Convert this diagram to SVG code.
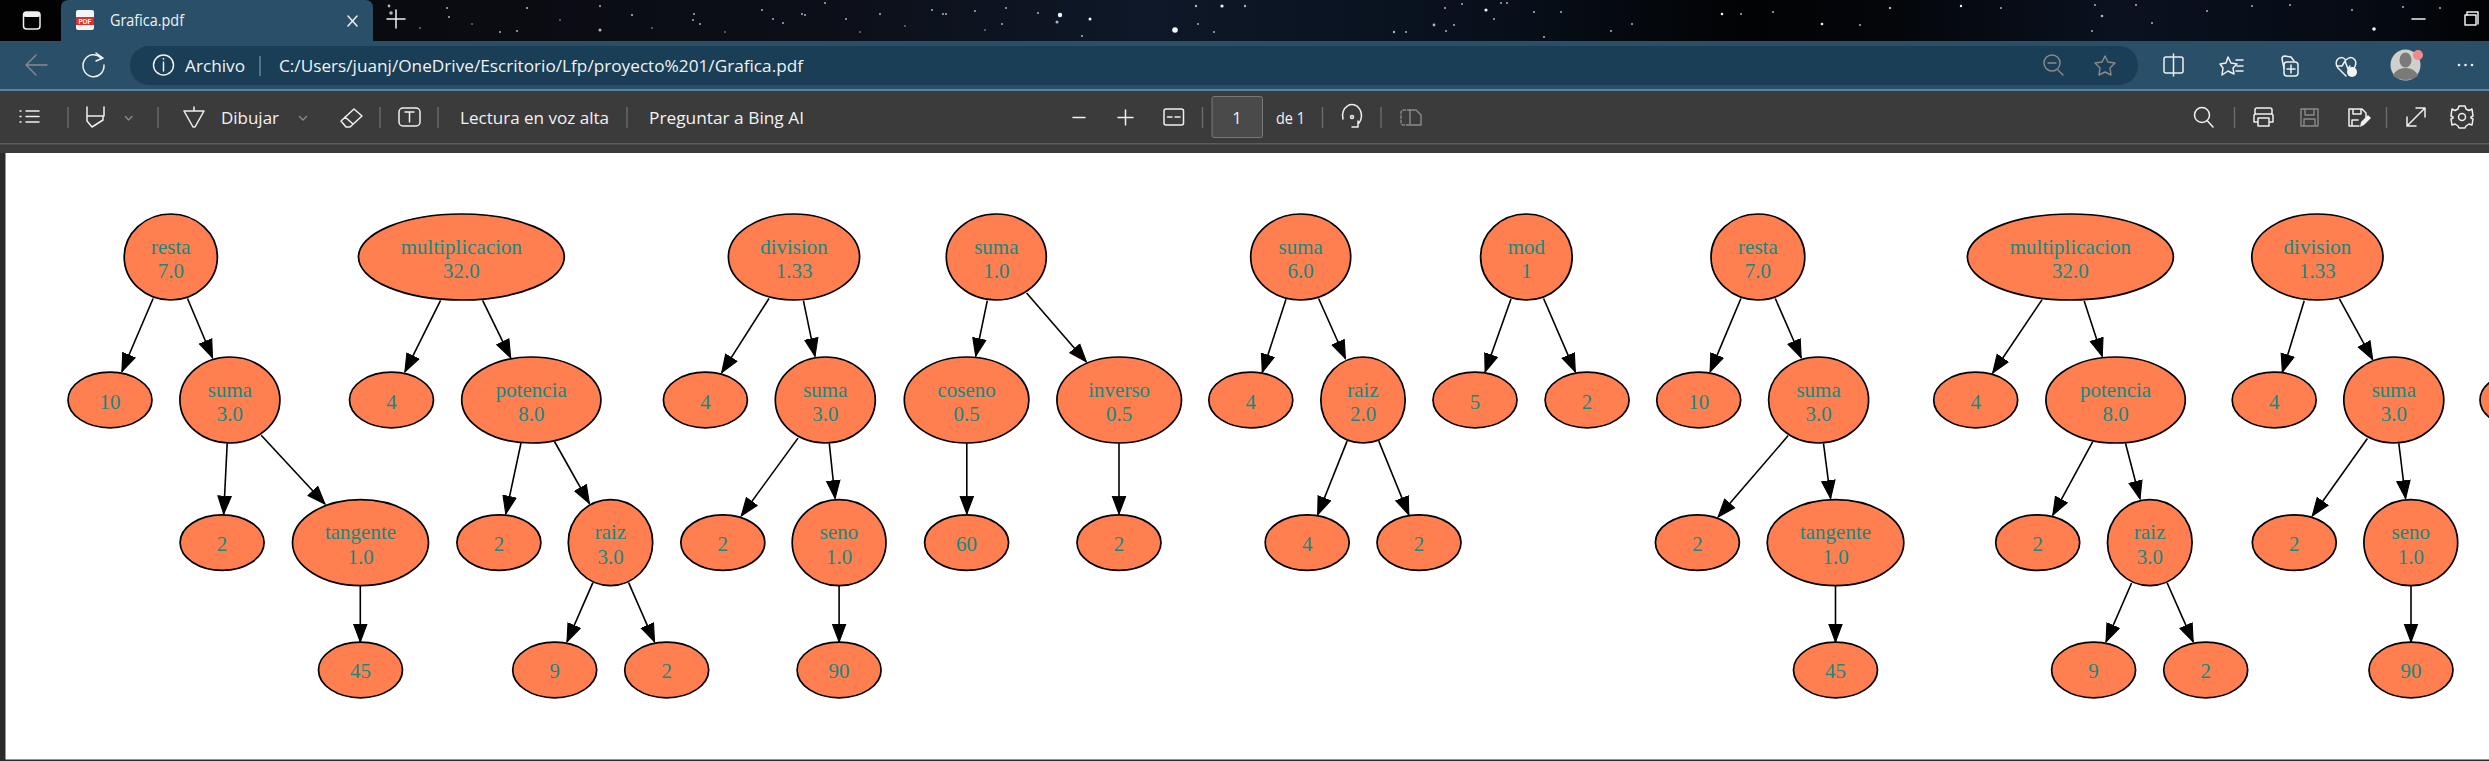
<svg xmlns="http://www.w3.org/2000/svg" width="2489" height="761" viewBox="0 0 2489 761">
<style>
.n{fill:#ff7f50;stroke:#000;stroke-width:1.7}
.t{font-family:"Liberation Serif","Times New Roman",serif;font-size:21px;fill:#148a80;text-anchor:middle}
.e{stroke:#000;stroke-width:1.6;fill:none;marker-end:url(#arrow)}
.u{font-family:"Open Sans","Liberation Sans",sans-serif;font-size:16.500px;fill:#eef3f6}
.w{font-family:"Open Sans","Liberation Sans",sans-serif;font-size:16.500px;fill:#f2f2f2}
.i{fill:none;stroke:#f0f0f0;stroke-width:1.5;stroke-linecap:round;stroke-linejoin:round}
.d{fill:none;stroke:#8a8a8a;stroke-width:1.4;stroke-linecap:round;stroke-linejoin:round}
.s{stroke:#6f6f6f;stroke-width:1.3}
.st{fill:#aab4c2}
.sb{fill:#f4f6fa}
</style>
<defs>
<marker id="arrow" markerUnits="userSpaceOnUse" markerWidth="20" markerHeight="16" viewBox="0 0 18 14" refX="16.5" refY="7" orient="auto">
<polygon points="0.5,1 16.5,7 0.5,13" fill="#000" stroke="#000" stroke-width="1"/>
</marker>
<linearGradient id="sky" x1="0" y1="0" x2="1" y2="0">
<stop offset="0" stop-color="#06070c"/>
<stop offset="0.2" stop-color="#0b0c12"/>
<stop offset="0.33" stop-color="#0c0f18"/>
<stop offset="0.46" stop-color="#0e1828"/>
<stop offset="0.6" stop-color="#08101c"/>
<stop offset="0.7" stop-color="#020304"/>
<stop offset="0.76" stop-color="#04060a"/>
<stop offset="0.85" stop-color="#0a1220"/>
<stop offset="0.95" stop-color="#060b14"/>
<stop offset="1" stop-color="#010203"/>
</linearGradient>
</defs>

<g id="page">
<rect x="0" y="0" width="2489" height="761" fill="#2b2b2b"/>
<rect x="5.500" y="153" width="2484" height="606.500" fill="#fff"/>
</g>

<g id="browser-tabs">
<rect x="0" y="0" width="2489" height="41" fill="url(#sky)"/>
<rect x="0" y="0" width="61" height="41" fill="#020202"/>
<g id="stars">
<circle class="st" cx="389" cy="6" r="1.4"/><circle class="st" cx="391" cy="13" r="1.8"/><circle class="st" cx="447" cy="8" r="1"/><circle class="st" cx="449" cy="17" r="1"/><circle class="st" cx="527" cy="8" r="1.1"/><circle class="st" cx="517" cy="31" r="1"/><circle class="st" cx="600" cy="30" r="1.6"/><circle class="st" cx="500" cy="32" r="1"/><circle class="st" cx="600" cy="6" r="1"/><circle class="st" cx="632" cy="15" r="1.1"/><circle class="st" cx="694" cy="14" r="1"/><circle class="st" cx="693" cy="20" r="1"/><circle class="st" cx="773" cy="19" r="1"/><circle class="st" cx="805" cy="15" r="1"/><circle class="st" cx="762" cy="10" r="1"/><circle class="st" cx="825" cy="3" r="1"/><circle class="st" cx="783" cy="23" r="1"/><circle class="st" cx="802" cy="14" r="1"/><circle class="st" cx="846" cy="19" r="1"/><circle class="st" cx="880" cy="14" r="1"/><circle class="st" cx="943" cy="14" r="1"/><circle class="st" cx="1002" cy="24" r="1"/><circle class="st" cx="1006" cy="8" r="1"/><circle class="st" cx="1038" cy="13" r="1"/><circle class="st" cx="946" cy="14" r="1"/><circle class="st" cx="975" cy="11" r="1"/><circle class="st" cx="932" cy="10" r="1"/><circle class="st" cx="700" cy="24" r="1"/><circle class="st" cx="420" cy="28" r="0.8"/><circle class="st" cx="472" cy="24" r="0.8"/><circle class="st" cx="560" cy="20" r="0.8"/><circle class="st" cx="652" cy="28" r="0.8"/><circle class="st" cx="725" cy="32" r="0.8"/><circle class="st" cx="860" cy="32" r="0.8"/><circle class="st" cx="905" cy="26" r="0.8"/><circle class="st" cx="985" cy="30" r="0.8"/>
<circle class="sb" cx="1060" cy="15" r="2.2"/><circle class="st" cx="1057" cy="22" r="1.5"/><circle class="sb" cx="1090" cy="19" r="1.5"/><circle class="sb" cx="1175" cy="30" r="2.8"/><circle class="sb" cx="1222" cy="6" r="1.6"/><circle class="st" cx="1196" cy="6" r="1.2"/><circle class="st" cx="1245" cy="6" r="1.2"/><circle class="st" cx="1198" cy="24" r="1"/><circle class="st" cx="1082" cy="36" r="1"/><circle class="st" cx="1214" cy="32" r="1"/><circle class="st" cx="1394" cy="32" r="1.2"/><circle class="st" cx="1434" cy="25" r="1.4"/><circle class="st" cx="1406" cy="32" r="1"/><circle class="st" cx="1462" cy="4" r="1"/><circle class="st" cx="1507" cy="3" r="1"/><circle class="st" cx="1494" cy="19" r="1"/><circle class="st" cx="1446" cy="31" r="1"/>
<circle class="sb" cx="1486" cy="10" r="1.6"/><circle class="st" cx="1534" cy="12" r="1.1"/><circle class="st" cx="1445" cy="8" r="1"/><circle class="st" cx="1454" cy="25" r="1"/><circle class="st" cx="1501" cy="3" r="1"/><circle class="st" cx="1544" cy="37" r="1"/><circle class="st" cx="1611" cy="31" r="1"/><circle class="st" cx="1561" cy="12" r="1"/><circle class="st" cx="1632" cy="24" r="1"/><circle class="sb" cx="1722" cy="14" r="1.3"/><circle class="st" cx="1741" cy="14" r="1"/><circle class="st" cx="1773" cy="12" r="1"/><circle class="sb" cx="1822" cy="24" r="1.3"/><circle class="st" cx="1860" cy="25" r="1"/><circle class="sb" cx="1890" cy="8" r="1"/><circle class="sb" cx="1961" cy="6" r="1.2"/><circle class="st" cx="2001" cy="8" r="1"/><circle class="st" cx="2092" cy="31" r="1"/><circle class="st" cx="2095" cy="5" r="1"/><circle class="st" cx="2102" cy="16" r="1.3"/><circle class="st" cx="2152" cy="23" r="1"/><circle class="st" cx="2136" cy="5" r="1"/><circle class="st" cx="2207" cy="11" r="1"/><circle class="st" cx="2252" cy="6" r="1"/><circle class="st" cx="2290" cy="5" r="1"/><circle class="st" cx="2352" cy="10" r="1"/><circle class="sb" cx="2374" cy="29" r="1.8"/><circle class="st" cx="2403" cy="7" r="1"/><circle class="st" cx="2440" cy="8" r="1"/>
</g>
<path d="M61 41V8Q61 0 69 0H365Q373 0 373 8V41Z" fill="#2a4f69"/>
<rect class="i" x="23.500" y="12" width="16.500" height="17" rx="3" stroke-width="2"/>
<rect x="23.500" y="12" width="16.500" height="5" rx="2" fill="#f0f0f0"/>
<rect x="76" y="10" width="18" height="20" rx="2" fill="#f5f5f5"/>
<rect x="76" y="17" width="18" height="8" fill="#d9302c"/>
<text x="85" y="23.500" font-family="Liberation Sans, sans-serif" font-size="6.500" font-weight="bold" fill="#fff" text-anchor="middle">PDF</text>
<text class="u" x="110" y="26" textLength="74" lengthAdjust="spacingAndGlyphs">Grafica.pdf</text>
<path class="i" d="M348 16L357 26M357 16L348 26"/>
<path class="i" d="M387 19H405M396 10V28" stroke="#cfcfcf"/>
<path class="i" d="M2412 19H2425"/>
<rect class="i" x="2465" y="15" width="11" height="10"/>
<path class="i" d="M2467 15V12H2478V24"/>
</g>

<g id="browser-address">
<rect x="0" y="41" width="2489" height="49" fill="#2a4f69"/>
<rect x="0" y="89" width="2489" height="2" fill="#54839e"/>
<rect x="130" y="46" width="2008" height="39" rx="19" fill="#193e55"/>
<path class="d" d="M26 65H47M26 65L36 55M26 65L36 75" stroke="#7f99aa"/>
<path class="i" d="M101 58A10.500 11 0 1 0 104 65M96 53L103 58L96 61" stroke="#dfe7ec"/>
<circle class="i" cx="163.500" cy="65" r="10"/>
<path class="i" d="M163.500 62V71M163.500 58.500V59"/>
<text class="u" x="185" y="72" textLength="60" lengthAdjust="spacingAndGlyphs">Archivo</text>
<path d="M260 56V76" stroke="#7d97a7" stroke-width="1.2"/>
<text class="u" x="279" y="72" textLength="524" lengthAdjust="spacingAndGlyphs">C:/Users/juanj/OneDrive/Escritorio/Lfp/proyecto%201/Grafica.pdf</text>
<circle class="d" cx="2052" cy="63" r="8"/><path class="d" d="M2058 70L2063 75M2048 63H2056"/>
<path class="d" d="M2105 56L2108 62L2115 63L2110 68L2111 75L2105 72L2099 75L2100 68L2095 63L2102 62Z"/>
<rect class="i" x="2164" y="57" width="19" height="16" rx="2"/><path class="i" d="M2173.500 54V76"/>
<path class="i" d="M2228 57L2231 63L2237 64L2233 68L2234 74L2228 71L2222 75L2223 68L2220 64L2226 63Z"/>
<path class="i" d="M2236 60H2243M2237 66H2243M2236 71H2243"/>
<rect class="i" x="2284" y="62" width="14" height="14" rx="3"/><path class="i" d="M2291 65V73M2287 69H2295M2284 68L2282 59Q2282 56 2285 56L2291 57L2294 61"/>
<path class="i" d="M2346 76L2338 68Q2335 64 2337 60Q2341 55 2346 60Q2351 55 2355 60Q2357 64 2354 68M2337 66H2342L2345 61L2348 69L2350 66"/>
<circle cx="2352" cy="72" r="5" fill="#f4f4f4"/>
<ellipse cx="2405.500" cy="65" rx="15" ry="15.500" fill="#cfcfcb"/>
<ellipse cx="2405.500" cy="60" rx="6" ry="7.500" fill="#7a7a78"/>
<path d="M2393 76Q2396 68 2405.500 68Q2415 68 2418 76Q2405.500 84 2393 76Z" fill="#7a7a78"/>
<circle cx="2418" cy="55" r="5" fill="#f28a8a"/>
<circle cx="2459" cy="65" r="1.300" fill="#f0f0f0"/><circle cx="2465.500" cy="65" r="1.300" fill="#f0f0f0"/><circle cx="2472" cy="65" r="1.300" fill="#f0f0f0"/>
</g>

<g id="browser-toolbar">
<rect x="0" y="91" width="2489" height="62" fill="#3b3b3b"/>
<rect x="0" y="143" width="2489" height="1.500" fill="#5b5b5b"/>
<path class="i" d="M20 111H21M26 111H39M20 116.500H21M26 116.500H39M20 122H21M26 122H39"/>
<path class="s" d="M68 107V128M158 107V128M380 107V128M438 107V128M627 107V128M1202.500 107V128M1322.500 107V128M1381 107V128M2234.500 107V128M2386.500 107V128"/>
<path class="i" d="M87 107V116H104V107M87 116V121L92 127L103 120V116"/>
<path class="d" d="M125.500 116.500L128.500 120L132 116.500" stroke="#cfcfcf"/>
<path class="i" d="M184 111H204L195 127H193ZM194 107V111"/>
<text class="w" x="221" y="124" textLength="58" lengthAdjust="spacingAndGlyphs">Dibujar</text>
<path class="d" d="M299.500 116.500L303 120L306.500 116.500" stroke="#cfcfcf"/>
<path class="i" d="M341 121L354 109L362 116L350 127H346ZM345 117L353 124"/>
<rect class="i" x="399" y="108" width="21" height="18" rx="4"/><path class="i" d="M405 112H414M409.500 112V122"/>
<text class="w" x="460" y="124" textLength="149" lengthAdjust="spacingAndGlyphs">Lectura en voz alta</text>
<text class="w" x="649" y="124" textLength="155" lengthAdjust="spacingAndGlyphs">Preguntar a Bing AI</text>
<path class="i" d="M1073 117.500H1085M1118 117.500H1133M1125.500 110V125"/>
<rect class="i" x="1164" y="109" width="19.500" height="16" rx="2"/>
<path class="i" d="M1167.500 117H1172M1175 117H1180" stroke-width="1.800"/>
<rect x="1212" y="96.500" width="50.500" height="41" rx="2" fill="#4a4a4a" stroke="#787878"/>
<text class="w" x="1237" y="124" text-anchor="middle">1</text>
<text class="w" x="1276" y="124" textLength="29" lengthAdjust="spacingAndGlyphs">de 1</text>
<path class="i" d="M1343 119A9.500 11 0 1 1 1359 123M1352 127H1358L1358 121"/>
<circle class="i" cx="1352" cy="117" r="1.500"/>
<path class="d" d="M1410 110H1404Q1401 110 1401 113V122Q1401 125 1404 125H1410" stroke-dasharray="2.500 2" stroke="#6c6c6c"/>
<path class="d" d="M1410 110H1416L1421 115V125H1410Z" stroke="#777"/>
<circle class="i" cx="2202" cy="115" r="7.500"/><path class="i" d="M2207.500 121L2213 127"/>
<path class="i" d="M2255 114V110Q2255 108 2257 108H2270Q2272 108 2272 110V114M2258 122H2254V116Q2254 114 2256 114H2271Q2273 114 2273 116V122H2269M2258 118H2269V126H2258Z"/>
<path class="d" d="M2301 109H2318V126H2301ZM2305 109V115H2314V109M2304 126V119H2315V126"/>
<path class="i" d="M2359 126H2349V109H2362L2366 113V118M2353 109V114H2361V109M2352 126V120H2358"/>
<path d="M2360 127L2361 122L2368 115L2371 118L2364 125Z" fill="#f0f0f0"/>
<path class="i" d="M2407 126L2425 108M2416 108H2425V117M2407 117V126H2416"/>
<path class="i" d="M2459 106H2465L2466 109L2469 110.500L2472 109L2473 116L2471 117L2471 118L2473 119L2472 125L2469 124L2466 126L2465 128H2459L2458 126L2455 124L2452 125L2451 119L2453 118L2453 117L2451 116L2452 109L2455 110.500L2458 109Z"/>
<circle class="i" cx="2462" cy="117" r="3.500"/>
</g>

<g id="connectors">
<line class="e" x1="153.100" y1="298.500" x2="121.900" y2="371.500"/>
<line class="e" x1="187.500" y1="298.500" x2="212.500" y2="357.800"/>
<line class="e" x1="227.200" y1="443.300" x2="223.700" y2="514"/>
<line class="e" x1="261.200" y1="435.200" x2="325" y2="504"/>
<line class="e" x1="360.300" y1="586" x2="360.300" y2="641.900"/>
<line class="e" x1="440.600" y1="300.400" x2="404.900" y2="371.900"/>
<line class="e" x1="482.600" y1="300.400" x2="510.700" y2="357.800"/>
<line class="e" x1="521" y1="443" x2="505.800" y2="514"/>
<line class="e" x1="554.500" y1="441.500" x2="589.300" y2="503.300"/>
<line class="e" x1="592.900" y1="582.600" x2="567" y2="641.900"/>
<line class="e" x1="628.600" y1="582.600" x2="654.500" y2="641.900"/>
<line class="e" x1="769" y1="298.500" x2="721.700" y2="372.600"/>
<line class="e" x1="803.400" y1="300.700" x2="815" y2="356.300"/>
<line class="e" x1="798" y1="438.100" x2="741.300" y2="515.900"/>
<line class="e" x1="829.300" y1="443.300" x2="835.100" y2="498.500"/>
<line class="e" x1="839.100" y1="586" x2="839.100" y2="641.900"/>
<line class="e" x1="987.300" y1="300.700" x2="975.700" y2="356.300"/>
<line class="e" x1="1026.600" y1="293" x2="1086.400" y2="361.900"/>
<line class="e" x1="966.800" y1="443.300" x2="966.800" y2="514"/>
<line class="e" x1="1119" y1="443.300" x2="1119" y2="514"/>
<line class="e" x1="1286" y1="299.300" x2="1262.300" y2="372.200"/>
<line class="e" x1="1318.600" y1="298.500" x2="1345.400" y2="358.500"/>
<line class="e" x1="1347.100" y1="441.100" x2="1317.700" y2="514.800"/>
<line class="e" x1="1378.800" y1="441.100" x2="1408.800" y2="514.800"/>
<line class="e" x1="1511" y1="298.900" x2="1485.100" y2="371.900"/>
<line class="e" x1="1543.600" y1="298.500" x2="1575.300" y2="371.900"/>
<line class="e" x1="1740.900" y1="298.500" x2="1710.100" y2="371.900"/>
<line class="e" x1="1775.300" y1="298.500" x2="1801.200" y2="357.800"/>
<line class="e" x1="1788.200" y1="435.600" x2="1718.100" y2="517"/>
<line class="e" x1="1823.500" y1="443.300" x2="1830.600" y2="498.500"/>
<line class="e" x1="1835.500" y1="586" x2="1835.500" y2="641.900"/>
<line class="e" x1="2042.100" y1="299.600" x2="1992.700" y2="373"/>
<line class="e" x1="2084.200" y1="301.100" x2="2102.200" y2="356.300"/>
<line class="e" x1="2092.600" y1="441.900" x2="2052.800" y2="515.200"/>
<line class="e" x1="2125.500" y1="443.300" x2="2140" y2="498.900"/>
<line class="e" x1="2131.600" y1="583" x2="2106" y2="641.900"/>
<line class="e" x1="2167.200" y1="583" x2="2193.200" y2="641.900"/>
<line class="e" x1="2304.200" y1="300.700" x2="2282.400" y2="372.200"/>
<line class="e" x1="2339.400" y1="298.900" x2="2372.700" y2="359.600"/>
<line class="e" x1="2367.400" y1="438.500" x2="2312.300" y2="515.900"/>
<line class="e" x1="2398.800" y1="443.300" x2="2405.600" y2="498.500"/>
<line class="e" x1="2411" y1="586" x2="2411" y2="641.900"/>
</g>

<g id="nodes">
<g id="a1"><ellipse class="n" cx="170.800" cy="257" rx="46.600" ry="43"/><text class="t" x="170.800" y="254">resta</text><text class="t" x="170.800" y="278">7.0</text></g>
<g id="a2"><ellipse class="n" cx="110" cy="400" rx="42" ry="27.800"/><text class="t" x="110" y="409">10</text></g>
<g id="a3"><ellipse class="n" cx="229.900" cy="400" rx="50" ry="43"/><text class="t" x="229.900" y="396.500">suma</text><text class="t" x="229.900" y="420.500">3.0</text></g>
<g id="a4"><ellipse class="n" cx="222.100" cy="542.600" rx="42" ry="27.800"/><text class="t" x="222.100" y="551">2</text></g>
<g id="a5"><ellipse class="n" cx="360.500" cy="542.600" rx="68" ry="43"/><text class="t" x="360.500" y="539">tangente</text><text class="t" x="360.500" y="563.500">1.0</text></g>
<g id="a6"><ellipse class="n" cx="360.500" cy="670" rx="42" ry="27.800"/><text class="t" x="360.500" y="678">45</text></g>

<g id="b1"><ellipse class="n" cx="461.400" cy="257" rx="102.900" ry="43"/><text class="t" x="461.400" y="254">multiplicacion</text><text class="t" x="461.400" y="278">32.0</text></g>
<g id="b2"><ellipse class="n" cx="391.500" cy="400" rx="42" ry="27.800"/><text class="t" x="391.500" y="409">4</text></g>
<g id="b3"><ellipse class="n" cx="531.300" cy="400" rx="69.600" ry="43"/><text class="t" x="531.300" y="396.500">potencia</text><text class="t" x="531.300" y="420.500">8.0</text></g>
<g id="b4"><ellipse class="n" cx="498.900" cy="542.600" rx="42" ry="27.800"/><text class="t" x="498.900" y="551">2</text></g>
<g id="b5"><ellipse class="n" cx="610.500" cy="542.600" rx="42.200" ry="43"/><text class="t" x="610.500" y="539">raiz</text><text class="t" x="610.500" y="563.500">3.0</text></g>
<g id="b6"><ellipse class="n" cx="554.700" cy="670" rx="42" ry="27.800"/><text class="t" x="554.700" y="678">9</text></g>
<g id="b7"><ellipse class="n" cx="666.700" cy="670" rx="42" ry="27.800"/><text class="t" x="666.700" y="678">2</text></g>

<g id="c1"><ellipse class="n" cx="794" cy="257" rx="65.600" ry="43"/><text class="t" x="794" y="254">division</text><text class="t" x="794" y="278">1.33</text></g>
<g id="c2"><ellipse class="n" cx="705.400" cy="400" rx="42" ry="27.800"/><text class="t" x="705.400" y="409">4</text></g>
<g id="c3"><ellipse class="n" cx="825.300" cy="400" rx="50" ry="43"/><text class="t" x="825.300" y="396.500">suma</text><text class="t" x="825.300" y="420.500">3.0</text></g>
<g id="c4"><ellipse class="n" cx="722.800" cy="542.600" rx="42" ry="27.800"/><text class="t" x="722.800" y="551">2</text></g>
<g id="c5"><ellipse class="n" cx="839.100" cy="542.600" rx="46.900" ry="43"/><text class="t" x="839.100" y="539">seno</text><text class="t" x="839.100" y="563.500">1.0</text></g>
<g id="c6"><ellipse class="n" cx="839.100" cy="670" rx="42" ry="27.800"/><text class="t" x="839.100" y="678">90</text></g>

<g id="d1"><ellipse class="n" cx="996.300" cy="257" rx="50" ry="43"/><text class="t" x="996.300" y="254">suma</text><text class="t" x="996.300" y="278">1.0</text></g>
<g id="d2"><ellipse class="n" cx="966.600" cy="400" rx="62.300" ry="43"/><text class="t" x="966.600" y="396.500">coseno</text><text class="t" x="966.600" y="420.500">0.5</text></g>
<g id="d3"><ellipse class="n" cx="1119.200" cy="400" rx="62.300" ry="43"/><text class="t" x="1119.200" y="396.500">inverso</text><text class="t" x="1119.200" y="420.500">0.5</text></g>
<g id="d4"><ellipse class="n" cx="966.600" cy="542.600" rx="42" ry="27.800"/><text class="t" x="966.600" y="551">60</text></g>
<g id="d5"><ellipse class="n" cx="1119" cy="542.600" rx="42" ry="27.800"/><text class="t" x="1119" y="551">2</text></g>

<g id="e1"><ellipse class="n" cx="1300.700" cy="257" rx="50" ry="43"/><text class="t" x="1300.700" y="254">suma</text><text class="t" x="1300.700" y="278">6.0</text></g>
<g id="e2"><ellipse class="n" cx="1250.800" cy="400" rx="42" ry="27.800"/><text class="t" x="1250.800" y="409">4</text></g>
<g id="e3"><ellipse class="n" cx="1363" cy="400" rx="42.200" ry="43"/><text class="t" x="1363" y="396.500">raiz</text><text class="t" x="1363" y="420.500">2.0</text></g>
<g id="e4"><ellipse class="n" cx="1307.200" cy="542.600" rx="42" ry="27.800"/><text class="t" x="1307.200" y="551">4</text></g>
<g id="e5"><ellipse class="n" cx="1419" cy="542.600" rx="42" ry="27.800"/><text class="t" x="1419" y="551">2</text></g>

<g id="f1"><ellipse class="n" cx="1526.400" cy="257" rx="45.800" ry="43"/><text class="t" x="1526.400" y="254">mod</text><text class="t" x="1526.400" y="278">1</text></g>
<g id="f2"><ellipse class="n" cx="1475" cy="400" rx="42" ry="27.800"/><text class="t" x="1475" y="409">5</text></g>
<g id="f3"><ellipse class="n" cx="1587.100" cy="400" rx="42" ry="27.800"/><text class="t" x="1587.100" y="409">2</text></g>

<g id="g1"><ellipse class="n" cx="1757.900" cy="257" rx="46.900" ry="43"/><text class="t" x="1757.900" y="254">resta</text><text class="t" x="1757.900" y="278">7.0</text></g>
<g id="g2"><ellipse class="n" cx="1698.700" cy="400" rx="42" ry="27.800"/><text class="t" x="1698.700" y="409">10</text></g>
<g id="g3"><ellipse class="n" cx="1818.600" cy="400" rx="50" ry="43"/><text class="t" x="1818.600" y="396.500">suma</text><text class="t" x="1818.600" y="420.500">3.0</text></g>
<g id="g4"><ellipse class="n" cx="1697.400" cy="542.600" rx="42" ry="27.800"/><text class="t" x="1697.400" y="551">2</text></g>
<g id="g5"><ellipse class="n" cx="1835.500" cy="542.600" rx="68.300" ry="43"/><text class="t" x="1835.500" y="539">tangente</text><text class="t" x="1835.500" y="563.500">1.0</text></g>
<g id="g6"><ellipse class="n" cx="1835.500" cy="670" rx="42" ry="27.800"/><text class="t" x="1835.500" y="678">45</text></g>

<g id="h1"><ellipse class="n" cx="2070.400" cy="257" rx="103" ry="43"/><text class="t" x="2070.400" y="254">multiplicacion</text><text class="t" x="2070.400" y="278">32.0</text></g>
<g id="h2"><ellipse class="n" cx="1975.700" cy="400" rx="42" ry="27.800"/><text class="t" x="1975.700" y="409">4</text></g>
<g id="h3"><ellipse class="n" cx="2115.600" cy="400" rx="69.700" ry="43"/><text class="t" x="2115.600" y="396.500">potencia</text><text class="t" x="2115.600" y="420.500">8.0</text></g>
<g id="h4"><ellipse class="n" cx="2037.700" cy="542.600" rx="42" ry="27.800"/><text class="t" x="2037.700" y="551">2</text></g>
<g id="h5"><ellipse class="n" cx="2149.800" cy="542.600" rx="42.300" ry="43"/><text class="t" x="2149.800" y="539">raiz</text><text class="t" x="2149.800" y="563.500">3.0</text></g>
<g id="h6"><ellipse class="n" cx="2093.600" cy="670" rx="42" ry="27.800"/><text class="t" x="2093.600" y="678">9</text></g>
<g id="h7"><ellipse class="n" cx="2205.700" cy="670" rx="42" ry="27.800"/><text class="t" x="2205.700" y="678">2</text></g>

<g id="i1"><ellipse class="n" cx="2317.400" cy="257" rx="65.600" ry="43"/><text class="t" x="2317.400" y="254">division</text><text class="t" x="2317.400" y="278">1.33</text></g>
<g id="i2"><ellipse class="n" cx="2274.200" cy="400" rx="42" ry="27.800"/><text class="t" x="2274.200" y="409">4</text></g>
<g id="i3"><ellipse class="n" cx="2393.800" cy="400" rx="50" ry="43"/><text class="t" x="2393.800" y="396.500">suma</text><text class="t" x="2393.800" y="420.500">3.0</text></g>
<g id="i4"><ellipse class="n" cx="2294.300" cy="542.600" rx="42" ry="27.800"/><text class="t" x="2294.300" y="551">2</text></g>
<g id="i5"><ellipse class="n" cx="2410.800" cy="542.600" rx="46.900" ry="43"/><text class="t" x="2410.800" y="539">seno</text><text class="t" x="2410.800" y="563.500">1.0</text></g>
<g id="i6"><ellipse class="n" cx="2411" cy="670" rx="42" ry="27.800"/><text class="t" x="2411" y="678">90</text></g>
<g id="j1"><ellipse class="n" cx="2522" cy="400" rx="42" ry="27.800"/></g>
</g>
</svg>
